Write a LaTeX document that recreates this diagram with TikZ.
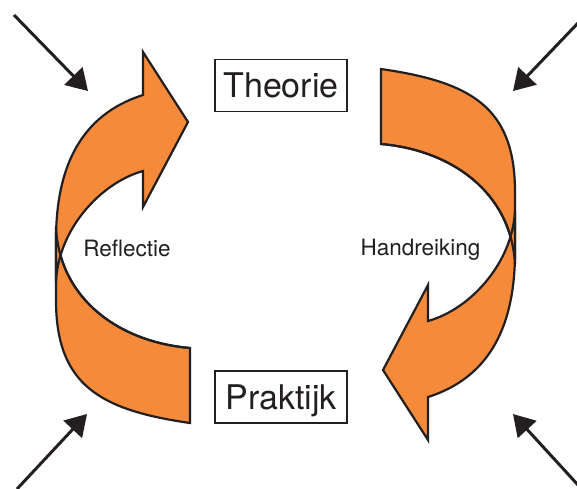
\documentclass[tikz,border=0pt]{standalone}
\usepackage{fontspec}
\setmainfont{TeX Gyre Heros}
\usetikzlibrary{arrows.meta}
\definecolor{ribbonorange}{HTML}{F48A3A}
\definecolor{inkdark}{HTML}{231F20}
% One twisted ribbon: the lower band, the upper arrow on top of it,
% and the lower band's inner edge stroked again so both edges cross visibly.
\newcommand{\twistribbon}{%
  \filldraw[ribbon] (190,348) .. controls (120,342) and (60,300) .. (56,228)
     -- (56,300) .. controls (56,385) and (100,410) .. (190,423) -- cycle;
  \filldraw[ribbon] (56,282) -- (56,240) .. controls (56,168) and (80,115) .. (143,95)
     -- (143,52) -- (188,122) -- (143,207) -- (143,171)
     .. controls (100,183) and (58,230) .. (56,282) -- cycle;
  \draw[ribbonedge] (190,348) .. controls (120,342) and (60,300) .. (56,228);
}
\begin{document}
\begin{tikzpicture}[x=1pt,y=-1pt,
  ribbon/.style={fill=ribbonorange, draw=inkdark, line width=2.2pt, line join=miter},
  ribbonedge/.style={draw=inkdark, line width=2.2pt},
  termbox/.style={draw=inkdark, line width=1.5pt, minimum width=132pt, minimum height=52pt,
    inner sep=0pt, font=\fontsize{34}{40}\selectfont, text=inkdark,
    text height=24.5pt, text depth=0pt},
  flowlabel/.style={font=\fontsize{22.5}{27}\selectfont, text=inkdark,
    text height=16.2pt, text depth=0pt, inner sep=0pt},
  pointer/.style={draw=inkdark, line width=3pt, -{Triangle[length=21pt,width=25pt]}}]
\useasboundingbox (0,0) rectangle (577,488);
\fill[white] (0,0) rectangle (577,488);

% left ribbon (Reflectie) and its point-mirrored twin (Handreiking)
\twistribbon
\begin{scope}[shift={(571,492)}, scale=-1]
  \twistribbon
\end{scope}

\node[termbox] (theorie) at (281,85.5) {Theorie};
\node[termbox] (praktijk) at (281,397) {Praktijk};
\node[flowlabel] (reflectie) at (127,248.5) {Reflectie};
\node[flowlabel] (handreiking) at (420.5,247.5) {Handreiking};

% incoming influences at the four corners
\coordinate (tlstart) at (14,15);
\coordinate (tlend) at (88,91);
\coordinate (trstart) at (578,23);
\coordinate (trend) at (513,91);
\coordinate (blstart) at (17,489);
\coordinate (blend) at (87,414);
\coordinate (brstart) at (578,485);
\coordinate (brend) at (513,414);
\draw[pointer] (tlstart) -- (tlend);
\draw[pointer] (trstart) -- (trend);
\draw[pointer] (blstart) -- (blend);
\draw[pointer] (brstart) -- (brend);
\end{tikzpicture}
\end{document}
